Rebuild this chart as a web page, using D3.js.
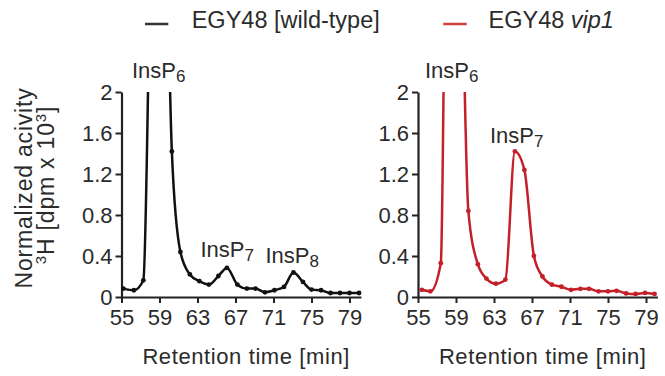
<!DOCTYPE html>
<html><head><meta charset="utf-8">
<script src="https://cdn.jsdelivr.net/npm/d3@7"></script>
<style>
body{margin:0;background:#fff;}
text{font-family:"Liberation Sans",Arial,Helvetica,sans-serif;fill:#2b2b2b;}
</style></head>
<body><svg id="c" width="665" height="376"></svg>
<script>
// ---- data ----
const timesWT = [55.2,56.3,57.3,58.3,59.3,60.3,61.2,62.2,63.2,64.2,65.2,66.1,67.2,68.2,69.1,70.1,71.1,72.1,73.1,74.1,75.0,76.0,77.0,78.0,79.0,80.0];
const valuesWT = [0.082,0.066,0.163,4.2,4.8,1.42,0.44,0.22,0.154,0.121,0.205,0.284,0.121,0.082,0.082,0.046,0.066,0.098,0.239,0.147,0.072,0.066,0.039,0.039,0.039,0.039];
const timesVip = [55.4,56.3,57.4,58.4,59.4,60.3,61.3,62.2,63.2,64.2,65.2,66.2,67.2,68.1,69.1,70.1,71.1,72.1,73.0,74.0,75.0,75.9,76.9,77.9,78.9,79.9];
const valuesVip = [0.07,0.055,0.33,8.0,4.4,0.84,0.32,0.18,0.13,0.17,1.42,1.24,0.40,0.20,0.12,0.10,0.07,0.08,0.08,0.055,0.055,0.06,0.035,0.03,0.04,0.03];
const xTicks = [55,59,63,67,71,75,79];
const yTicks = [0,0.4,0.8,1.2,1.6,2];
const yTickLabels = ["0","0.4","0.8","1.2","1.6","2"];
const legendLabels = ["EGY48 [wild-type]","EGY48 "];
const legendItalic = ["", "vip1"];
const colors = ["#111111","#c4202a"];
const legendColors = ["#333333","#cf3f3f"];

const svg = d3.select("#c");
const y = d3.scaleLinear().domain([0,2]).range([297,92]);

const panels = [
  {times: timesWT, values: valuesWT, color: colors[0], x0: 121.5,
   labels: [{main:"InsP", sub:"6", x:132, y:78}, {main:"InsP", sub:"7", x:200.5, y:256.5}, {main:"InsP", sub:"8", x:265.5, y:262.5}]},
  {times: timesVip, values: valuesVip, color: colors[1], x0: 418,
   labels: [{main:"InsP", sub:"6", x:425, y:78}, {main:"InsP", sub:"7", x:490, y:142.5}]}
];

const defs = svg.append("defs");
defs.append("clipPath").attr("id","clip").append("rect")
  .attr("x",0).attr("y",y(2)).attr("width",665).attr("height",y(0)-y(2)+10);

panels.forEach((p,i)=>{
  const x = d3.scaleLinear().domain([55,80.2]).range([p.x0, p.x0+239.4]);
  const g = svg.append("g");
  // axes
  const xa = g.append("g").attr("transform",`translate(0,${y(0)})`)
    .call(d3.axisBottom(x).tickValues(xTicks).tickSize(6).tickPadding(6).tickSizeOuter(0));
  const ya = g.append("g").attr("transform",`translate(${p.x0},0)`)
    .call(d3.axisLeft(y).tickValues(yTicks).tickFormat((d,k)=>yTickLabels[k]).tickSize(6).tickPadding(3).tickSizeOuter(0));
  [xa,ya].forEach(a=>{
    a.select(".domain").attr("stroke","#222").attr("stroke-width",2.2);
    a.selectAll(".tick line").attr("stroke","#222").attr("stroke-width",2);
    a.selectAll(".tick text").attr("font-size",22).attr("fill","#2b2b2b")
      .style("font-family",'"Liberation Sans",Arial,sans-serif');
  });
  xa.selectAll(".tick text").attr("dy","0.72em");
  // line
  const pts = p.times.map((t,k)=>({t, v:p.values[k]}));
  const line = d3.line().x(d=>x(d.t)).y(d=>y(d.v)).curve(d3.curveMonotoneX);
  const cg = g.append("g").attr("clip-path","url(#clip)");
  cg.append("path").datum(pts).attr("d",line).attr("fill","none")
    .attr("stroke",p.color).attr("stroke-width",2.5).attr("stroke-linejoin","round");
  cg.selectAll("circle").data(pts).join("circle")
    .attr("cx",d=>x(d.t)).attr("cy",d=>y(d.v)).attr("r",2.4).attr("fill",p.color);
  // x title
  g.append("text").attr("x",(p.x0+p.x0+239.4)/2+5).attr("y",364)
    .attr("text-anchor","middle").attr("font-size",22).style("letter-spacing","0.6px")
    .text("Retention time [min]");
  // peak labels
  p.labels.forEach(l=>{
    const t = g.append("text").attr("x",l.x).attr("y",l.y).attr("font-size",22);
    t.append("tspan").text(l.main);
    t.append("tspan").attr("font-size",17).attr("dy",4).text(l.sub);
  });
});

// y title
const yt = svg.append("g").attr("transform","translate(0,188) rotate(-90)");
yt.append("text").attr("x",0).attr("y",32).attr("text-anchor","middle")
  .attr("font-size",23).style("letter-spacing","0.8px").text("Normalized acivity");
const t2 = yt.append("text").attr("x",3).attr("y",54).attr("text-anchor","middle")
  .attr("font-size",23).style("letter-spacing","0.8px");
t2.append("tspan").attr("font-size",15).attr("dy",-8).text("3");
t2.append("tspan").attr("dy",8).text("H [dpm x 10");
t2.append("tspan").attr("font-size",15).attr("dy",-8).text("3");
t2.append("tspan").attr("dy",8).text("]");

// legend
const legX = [[145,168.3,191.7],[443.3,466.7,488.5]];
legendLabels.forEach((lab,i)=>{
  svg.append("line").attr("x1",legX[i][0]).attr("x2",legX[i][1]).attr("y1",24).attr("y2",24)
    .attr("stroke",legendColors[i]).attr("stroke-width",2.5);
  const t = svg.append("text").attr("x",legX[i][2]).attr("y",28.3).attr("font-size",23.5).text(lab);
  if (legendItalic[i]) t.append("tspan").attr("font-style","italic").text(legendItalic[i]);
});
</script></body></html>
